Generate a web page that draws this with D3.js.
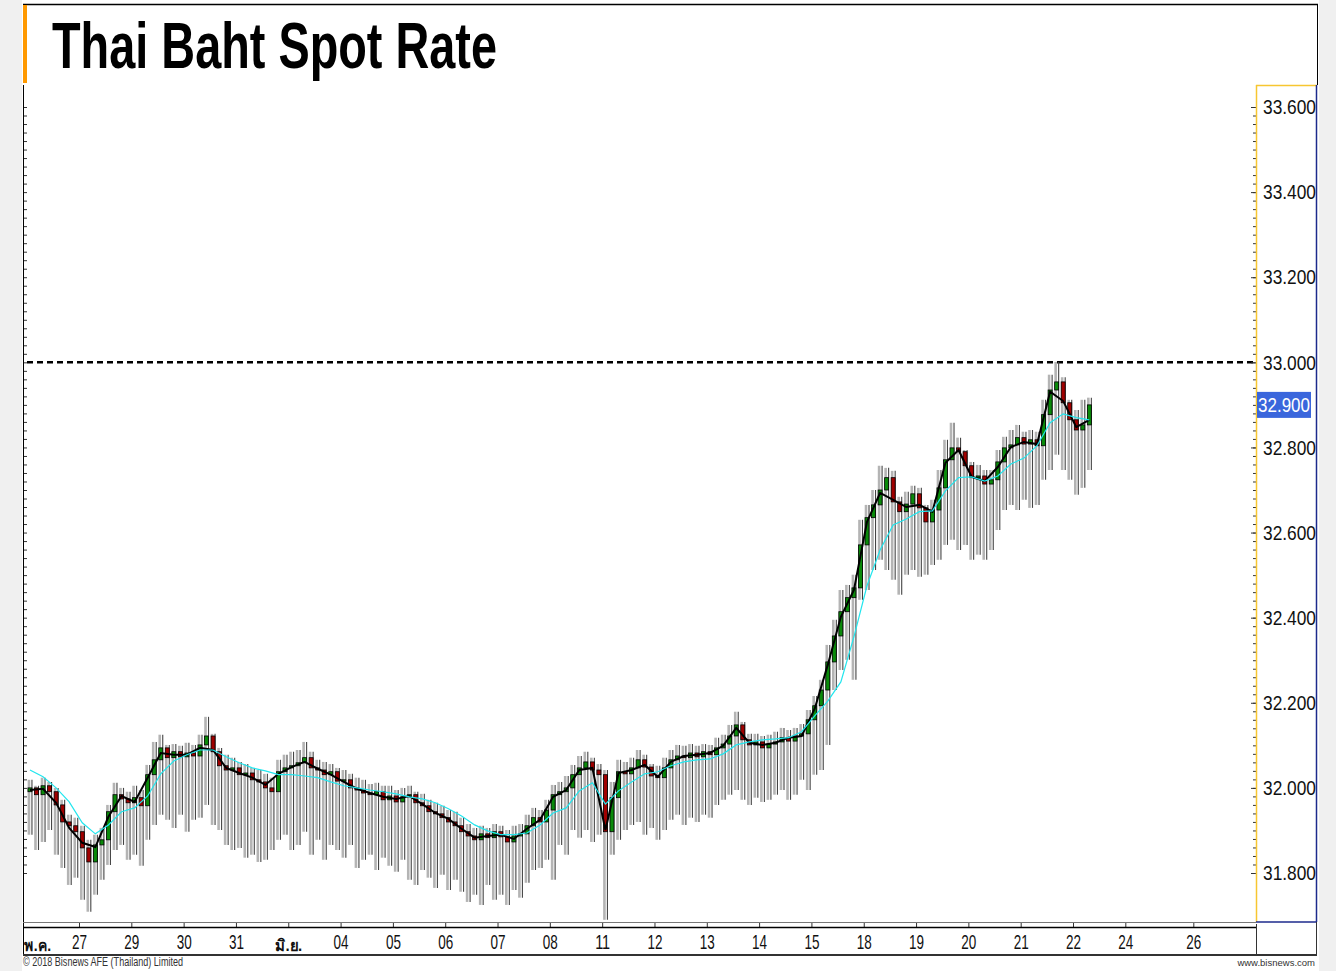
<!DOCTYPE html>
<html>
<head>
<meta charset="utf-8">
<script src="https://cdn.jsdelivr.net/npm/d3@7"></script>
<style>
  body { margin: 0; background: #f0f0f0; }
  svg { display: block; }
  text { font-family: "Liberation Sans Narrow", "Liberation Sans", Arial, sans-serif; }
</style>
</head>
<body>
<svg id="chart" width="1336" height="971"></svg>
<script>
// ---- data ----
const title = "Thai Baht Spot Rate";
const candlesPerDay = 8;   // candle k sits in day slot -1 + (k + .5) / 8

const candleOpen = [
  31.991, 32.000, 31.984, 32.005, 31.991, 31.960, 31.920, 31.911, 31.897, 31.859,
  31.826, 31.866, 31.878, 31.944, 31.984, 31.974, 31.965, 31.977, 31.958, 32.031,
  32.066, 32.094, 32.071, 32.085, 32.073, 32.082, 32.075, 32.101, 32.122, 32.085,
  32.052, 32.042, 32.047, 32.031, 32.035, 32.019, 32.014, 32.000, 31.991, 32.038,
  32.047, 32.052, 32.059, 32.071, 32.047, 32.042, 32.031, 32.038, 32.016, 32.019,
  32.000, 31.995, 31.988, 31.984, 31.991, 31.972, 31.981, 31.967, 31.979, 31.984,
  31.965, 31.958, 31.944, 31.939, 31.930, 31.920, 31.911, 31.897, 31.887, 31.878,
  31.892, 31.883, 31.897, 31.885, 31.873, 31.887, 31.892, 31.911, 31.930, 31.920,
  31.948, 31.984, 31.991, 32.000, 32.031, 32.047, 32.061, 32.042, 32.031, 31.897,
  31.977, 32.038, 32.033, 32.047, 32.066, 32.049, 32.028, 32.024, 32.047, 32.066,
  32.075, 32.071, 32.082, 32.073, 32.085, 32.078, 32.094, 32.103, 32.122, 32.148,
  32.113, 32.101, 32.108, 32.094, 32.103, 32.108, 32.118, 32.110, 32.122, 32.127,
  32.160, 32.193, 32.230, 32.296, 32.357, 32.414, 32.447, 32.470, 32.571, 32.635,
  32.665, 32.700, 32.729, 32.672, 32.649, 32.667, 32.691, 32.658, 32.625, 32.653,
  32.705, 32.771, 32.799, 32.790, 32.757, 32.729, 32.733, 32.714, 32.724, 32.766,
  32.799, 32.806, 32.823, 32.808, 32.818, 32.804, 32.877, 32.935, 32.954, 32.905,
  32.865, 32.841, 32.853
];
const candleHigh = [
  32.019, 32.005, 32.024, 32.014, 32.000, 31.972, 31.937, 31.930, 31.911, 31.878,
  31.890, 31.906, 31.960, 32.012, 32.000, 31.991, 32.005, 31.995, 32.054, 32.108,
  32.125, 32.101, 32.103, 32.099, 32.106, 32.101, 32.125, 32.167, 32.127, 32.094,
  32.078, 32.071, 32.061, 32.056, 32.047, 32.042, 32.033, 32.024, 32.066, 32.078,
  32.085, 32.089, 32.108, 32.085, 32.066, 32.061, 32.056, 32.047, 32.042, 32.033,
  32.024, 32.019, 32.009, 32.012, 32.005, 32.005, 31.995, 32.000, 32.005, 31.991,
  31.986, 31.972, 31.965, 31.958, 31.948, 31.944, 31.930, 31.915, 31.906, 31.911,
  31.906, 31.915, 31.911, 31.901, 31.911, 31.915, 31.937, 31.953, 31.948, 31.972,
  32.007, 32.014, 32.028, 32.054, 32.075, 32.085, 32.071, 32.056, 32.042, 32.014,
  32.066, 32.061, 32.071, 32.089, 32.078, 32.056, 32.052, 32.071, 32.089, 32.101,
  32.099, 32.103, 32.099, 32.103, 32.101, 32.118, 32.125, 32.148, 32.179, 32.155,
  32.127, 32.127, 32.122, 32.125, 32.132, 32.141, 32.136, 32.141, 32.150, 32.183,
  32.216, 32.254, 32.336, 32.395, 32.465, 32.477, 32.501, 32.630, 32.665, 32.700,
  32.757, 32.752, 32.745, 32.684, 32.696, 32.710, 32.705, 32.665, 32.677, 32.747,
  32.818, 32.858, 32.823, 32.794, 32.766, 32.759, 32.747, 32.747, 32.794, 32.825,
  32.841, 32.853, 32.837, 32.841, 32.837, 32.912, 32.971, 33.001, 32.965, 32.912,
  32.888, 32.912, 32.917
];
const candleLow = [
  31.890, 31.854, 31.873, 31.901, 31.843, 31.812, 31.772, 31.789, 31.737, 31.709,
  31.749, 31.784, 31.819, 31.854, 31.866, 31.831, 31.843, 31.817, 31.878, 31.913,
  31.937, 31.925, 31.906, 31.937, 31.897, 31.925, 31.930, 31.960, 31.913, 31.901,
  31.866, 31.854, 31.859, 31.836, 31.843, 31.826, 31.831, 31.854, 31.878, 31.890,
  31.854, 31.866, 31.897, 31.843, 31.878, 31.831, 31.866, 31.854, 31.836, 31.866,
  31.812, 31.831, 31.843, 31.807, 31.836, 31.817, 31.803, 31.831, 31.784, 31.772,
  31.807, 31.789, 31.765, 31.796, 31.760, 31.784, 31.756, 31.732, 31.749, 31.725,
  31.772, 31.737, 31.749, 31.725, 31.760, 31.742, 31.777, 31.807, 31.812, 31.831,
  31.784, 31.866, 31.843, 31.901, 31.883, 31.901, 31.873, 31.890, 31.690, 31.843,
  31.878, 31.901, 31.913, 31.920, 31.890, 31.906, 31.878, 31.901, 31.925, 31.937,
  31.913, 31.930, 31.920, 31.937, 31.930, 31.960, 31.972, 31.984, 31.995, 31.972,
  31.960, 31.977, 31.967, 31.972, 31.984, 31.995, 31.972, 31.984, 32.019, 31.995,
  32.031, 32.042, 32.101, 32.230, 32.277, 32.301, 32.254, 32.442, 32.465, 32.512,
  32.536, 32.512, 32.489, 32.454, 32.501, 32.512, 32.496, 32.501, 32.524, 32.536,
  32.571, 32.583, 32.559, 32.571, 32.536, 32.548, 32.536, 32.559, 32.606, 32.653,
  32.665, 32.653, 32.677, 32.658, 32.665, 32.724, 32.747, 32.783, 32.747, 32.724,
  32.689, 32.705, 32.747
];
const candleClose = [
  32.000, 31.984, 32.005, 31.991, 31.960, 31.920, 31.911, 31.897, 31.859, 31.826,
  31.866, 31.878, 31.944, 31.984, 31.974, 31.965, 31.977, 31.958, 32.031, 32.066,
  32.094, 32.071, 32.085, 32.073, 32.082, 32.075, 32.101, 32.122, 32.085, 32.052,
  32.042, 32.047, 32.031, 32.035, 32.019, 32.014, 32.000, 31.991, 32.038, 32.047,
  32.052, 32.059, 32.071, 32.047, 32.042, 32.031, 32.038, 32.016, 32.019, 32.000,
  31.995, 31.988, 31.984, 31.991, 31.972, 31.981, 31.967, 31.979, 31.984, 31.965,
  31.958, 31.944, 31.939, 31.930, 31.920, 31.911, 31.897, 31.887, 31.878, 31.892,
  31.883, 31.897, 31.885, 31.873, 31.887, 31.892, 31.911, 31.930, 31.920, 31.948,
  31.984, 31.991, 32.000, 32.031, 32.047, 32.061, 32.042, 32.031, 31.897, 31.977,
  32.038, 32.033, 32.047, 32.066, 32.049, 32.028, 32.024, 32.047, 32.066, 32.075,
  32.071, 32.082, 32.073, 32.085, 32.078, 32.094, 32.103, 32.122, 32.148, 32.113,
  32.101, 32.108, 32.094, 32.103, 32.108, 32.118, 32.110, 32.122, 32.127, 32.160,
  32.193, 32.230, 32.296, 32.357, 32.414, 32.447, 32.470, 32.571, 32.635, 32.665,
  32.700, 32.729, 32.672, 32.649, 32.667, 32.691, 32.658, 32.625, 32.653, 32.705,
  32.771, 32.799, 32.790, 32.757, 32.729, 32.733, 32.714, 32.724, 32.766, 32.799,
  32.806, 32.823, 32.808, 32.818, 32.804, 32.877, 32.935, 32.954, 32.905, 32.865,
  32.841, 32.853, 32.900
];

// moving averages, one point for every second candle
const maFast = [
  31.995, 31.998, 31.965, 31.906, 31.871, 31.861, 31.932, 31.981, 31.967, 32.024,
  32.082, 32.078, 32.078, 32.094, 32.089, 32.047, 32.035, 32.024, 32.007, 32.033,
  32.049, 32.061, 32.045, 32.031, 32.014, 31.998, 31.988, 31.979, 31.974, 31.981,
  31.962, 31.941, 31.927, 31.904, 31.883, 31.887, 31.890, 31.880, 31.904, 31.925,
  31.979, 31.995, 32.042, 32.047, 31.901, 32.035, 32.042, 32.054, 32.026, 32.061,
  32.075, 32.078, 32.082, 32.099, 32.141, 32.106, 32.101, 32.106, 32.118, 32.122,
  32.186, 32.289, 32.402, 32.465, 32.625, 32.693, 32.677, 32.660, 32.665, 32.649,
  32.764, 32.794, 32.731, 32.721, 32.754, 32.801, 32.813, 32.808, 32.931, 32.909,
  32.848, 32.865
];
const maSlow = [
  32.042, 32.026, 32.000, 31.967, 31.918, 31.892, 31.913, 31.944, 31.953, 31.981,
  32.033, 32.063, 32.078, 32.089, 32.089, 32.073, 32.059, 32.047, 32.040, 32.031,
  32.031, 32.028, 32.024, 32.014, 32.005, 32.000, 31.995, 31.991, 31.986, 31.979,
  31.974, 31.965, 31.951, 31.934, 31.913, 31.899, 31.890, 31.890, 31.894, 31.913,
  31.941, 31.953, 31.993, 32.012, 31.962, 31.993, 32.014, 32.033, 32.038, 32.052,
  32.061, 32.066, 32.068, 32.080, 32.101, 32.108, 32.113, 32.115, 32.118, 32.132,
  32.169, 32.204, 32.249, 32.355, 32.475, 32.559, 32.618, 32.632, 32.649, 32.651,
  32.698, 32.729, 32.731, 32.721, 32.733, 32.761, 32.775, 32.804, 32.858, 32.879,
  32.870, 32.865
];

const refLevel = 33.0;
const yTickValues = [31.8, 32.0, 32.2, 32.4, 32.6, 32.8, 33.0, 33.2, 33.4, 33.6];
const xTickDays = [-0.8, 0, 1, 2, 3, 4, 5, 6, 7, 8, 9, 10, 11, 12, 13, 14, 15, 16, 17, 18, 19, 20, 21.3];
const xTickLabels = ["พ.ค.", "27", "29", "30", "31", "มิ.ย.", "04", "05", "06", "07", "08",
                     "11", "12", "13", "14", "15", "18", "19", "20", "21", "22", "24", "26"];
const copyright = "© 2018 Bisnews AFE (Thailand) Limited";
const site = "www.bisnews.com";

// ---- layout ----
const svg = d3.select("#chart");
const plot = { left: 24, right: 1256, top: 85, bottom: 922 };
const axisY = 927, stripBottom = 955, panelRight = 1317;
const narrow = "'Liberation Sans Narrow', 'Liberation Sans', Arial, sans-serif";

const x = d3.scaleLinear().domain([0, 19]).range([79, 1073]);
const y = d3.scaleLinear().domain([31.8, 33.6]).range([873, 107]);
const slot = k => -1 + (k + 0.5) / candlesPerDay;

// white sheet
svg.append("rect").attr("x", 22).attr("y", 0).attr("width", 1297).attr("height", 971).attr("fill", "#fff");

// frame
svg.append("line").attr("x1", 23).attr("x2", 1318).attr("y1", 4.5).attr("y2", 4.5).attr("stroke", "#000").attr("stroke-width", 1.5);
svg.append("line").attr("x1", 1317.5).attr("x2", 1317.5).attr("y1", 4).attr("y2", plot.top).attr("stroke", "#000");
svg.append("rect").attr("x", 23).attr("y", 5).attr("width", 4).attr("height", 78).attr("fill", "#ff9900");
svg.append("line").attr("x1", 23.5).attr("x2", 23.5).attr("y1", plot.top).attr("y2", stripBottom).attr("stroke", "#000");

svg.append("text").attr("x", 52).attr("y", 68)
  .attr("font-size", 64).attr("font-weight", "bold")
  .attr("textLength", 445).attr("lengthAdjust", "spacingAndGlyphs")
  .text(title);

// plot clip
svg.append("clipPath").attr("id", "clip").append("rect")
  .attr("x", plot.left).attr("y", plot.top)
  .attr("width", plot.right - plot.left).attr("height", plot.bottom - plot.top);
const g = svg.append("g").attr("clip-path", "url(#clip)");

// reference level
g.append("line")
  .attr("x1", 27).attr("x2", plot.right)
  .attr("y1", y(refLevel)).attr("y2", y(refLevel))
  .attr("stroke", "#000").attr("stroke-width", 2.5).attr("stroke-dasharray", "6,4");

const candles = candleClose.map((c, k) => ({ k, o: candleOpen[k], h: candleHigh[k], l: candleLow[k], c }));

g.selectAll(".wick-light").data(candles).join("line")
  .attr("x1", d => x(slot(d.k)) - 1).attr("x2", d => x(slot(d.k)) - 1)
  .attr("y1", d => y(d.h)).attr("y2", d => y(d.l))
  .attr("stroke", "#b4b4b4").attr("stroke-width", 2.6);

g.selectAll(".wick-dark").data(candles).join("line")
  .attr("x1", d => x(slot(d.k)) + 2).attr("x2", d => x(slot(d.k)) + 2)
  .attr("y1", d => y(d.h)).attr("y2", d => y(d.l))
  .attr("stroke", "#444").attr("stroke-width", 1.1);

g.selectAll(".body").data(candles).join("rect")
  .attr("x", d => x(slot(d.k)) - 2)
  .attr("y", d => y(Math.max(d.o, d.c)))
  .attr("width", 4)
  .attr("height", d => Math.max(1.5, Math.abs(y(d.o) - y(d.c))))
  .attr("fill", d => d.c >= d.o ? "#0a8a0a" : "#a00000")
  .attr("stroke", "#000").attr("stroke-width", 0.8);

const maLine = d3.line().x((d, i) => x(slot(i * 2))).y(d => y(d));
g.append("path").attr("d", maLine(maFast)).attr("fill", "none").attr("stroke", "#000").attr("stroke-width", 2);
g.append("path").attr("d", maLine(maSlow)).attr("fill", "none").attr("stroke", "#22e6ee").attr("stroke-width", 1.2);

// plot bottom
svg.append("line").attr("x1", 23).attr("x2", plot.right).attr("y1", plot.bottom + 0.5).attr("y2", plot.bottom + 0.5).attr("stroke", "#777");

// right price axis
const minorTicks = y.ticks(100).filter(v => y(v) > plot.top + 2 && y(v) < plot.bottom - 2);
svg.append("g").attr("transform", `translate(${plot.right},0)`)
  .call(d3.axisLeft(y).tickValues(minorTicks).tickSize(3).tickFormat(""))
  .call(a => a.select(".domain").remove())
  .selectAll("line").attr("stroke", "#333");
svg.append("g").attr("transform", `translate(${plot.right},0)`)
  .call(d3.axisLeft(y).tickValues(yTickValues).tickSize(5).tickFormat(""))
  .call(a => a.select(".domain").remove())
  .selectAll("line").attr("stroke", "#333");
svg.append("g").attr("transform", `translate(${plot.left},0)`)
  .call(d3.axisRight(y).tickValues(minorTicks).tickSize(3).tickFormat(""))
  .call(a => a.select(".domain").remove())
  .selectAll("line").attr("stroke", "#333");

svg.append("line").attr("x1", plot.right + 0.5).attr("x2", plot.right + 0.5).attr("y1", plot.top).attr("y2", plot.bottom)
  .attr("stroke", "#f7c631").attr("stroke-width", 1.5);
svg.append("line").attr("x1", plot.right).attr("x2", panelRight).attr("y1", plot.top + 0.5).attr("y2", plot.top + 0.5)
  .attr("stroke", "#f7c631").attr("stroke-width", 1.5);
svg.append("line").attr("x1", panelRight - 0.5).attr("x2", panelRight - 0.5).attr("y1", plot.top).attr("y2", plot.bottom)
  .attr("stroke", "#1c2a8c").attr("stroke-width", 1.5);
svg.append("line").attr("x1", plot.right).attr("x2", panelRight).attr("y1", plot.bottom).attr("y2", plot.bottom)
  .attr("stroke", "#1c2a8c").attr("stroke-width", 1.5);

svg.append("g").attr("transform", `translate(${plot.right},0)`)
  .call(d3.axisRight(y).tickValues(yTickValues).tickSize(0).tickPadding(7).tickFormat(d3.format(".3f")))
  .call(a => a.select(".domain").remove())
  .selectAll("text").attr("font-size", 21).attr("fill", "#111")
  .attr("textLength", 53).attr("lengthAdjust", "spacingAndGlyphs")
  .style("font-family", narrow);

// last price marker
const lastClose = candleClose[candleClose.length - 1];
svg.append("rect").attr("x", plot.right + 1).attr("y", y(lastClose) - 13).attr("width", 54).attr("height", 26).attr("fill", "#3a66dc");
svg.append("text").attr("x", plot.right + 2).attr("y", y(lastClose)).attr("dy", "0.35em")
  .attr("font-size", 21).attr("fill", "#fff")
  .attr("textLength", 52).attr("lengthAdjust", "spacingAndGlyphs")
  .text(d3.format(".3f")(lastClose));

// bottom date axis
const isDay = i => /^\d+$/.test(xTickLabels[i]);
const xAxis = svg.append("g").attr("transform", `translate(0,${axisY})`)
  .call(d3.axisBottom(x).tickValues(xTickDays).tickSizeInner(-4).tickSizeOuter(0).tickPadding(7)
    .tickFormat((d, i) => xTickLabels[i]));
xAxis.select(".domain").remove();
xAxis.selectAll(".tick line").attr("stroke", "#333").attr("display", d => d < 0 ? "none" : null);
xAxis.selectAll(".tick text")
  .attr("fill", "#111")
  .style("font-family", narrow)
  .attr("font-size", (d, i) => isDay(i) ? 21 : 16)
  .attr("font-weight", (d, i) => isDay(i) ? null : "bold")
  .attr("textLength", (d, i) => isDay(i) ? 15 : 27)
  .attr("lengthAdjust", "spacingAndGlyphs")
  .attr("dy", (d, i) => isDay(i) ? "0.71em" : "1.05em");

svg.append("line").attr("x1", 23).attr("x2", plot.right).attr("y1", axisY + 0.5).attr("y2", axisY + 0.5).attr("stroke", "#000").attr("stroke-width", 1.5);
svg.append("line").attr("x1", 23).attr("x2", panelRight).attr("y1", stripBottom).attr("y2", stripBottom).attr("stroke", "#333").attr("stroke-width", 2);
svg.append("line").attr("x1", plot.right + 0.5).attr("x2", plot.right + 0.5).attr("y1", plot.bottom + 2).attr("y2", stripBottom).attr("stroke", "#333");
svg.append("line").attr("x1", panelRight - 0.5).attr("x2", panelRight - 0.5).attr("y1", plot.bottom).attr("y2", stripBottom).attr("stroke", "#333");

// footer
svg.append("text").attr("x", 23).attr("y", 966).attr("font-size", 12).attr("fill", "#333")
  .attr("textLength", 160).attr("lengthAdjust", "spacingAndGlyphs").text(copyright);
svg.append("text").attr("x", 1315).attr("y", 966).attr("font-size", 9.5).attr("fill", "#333")
  .attr("text-anchor", "end").text(site);
</script>
</body>
</html>
